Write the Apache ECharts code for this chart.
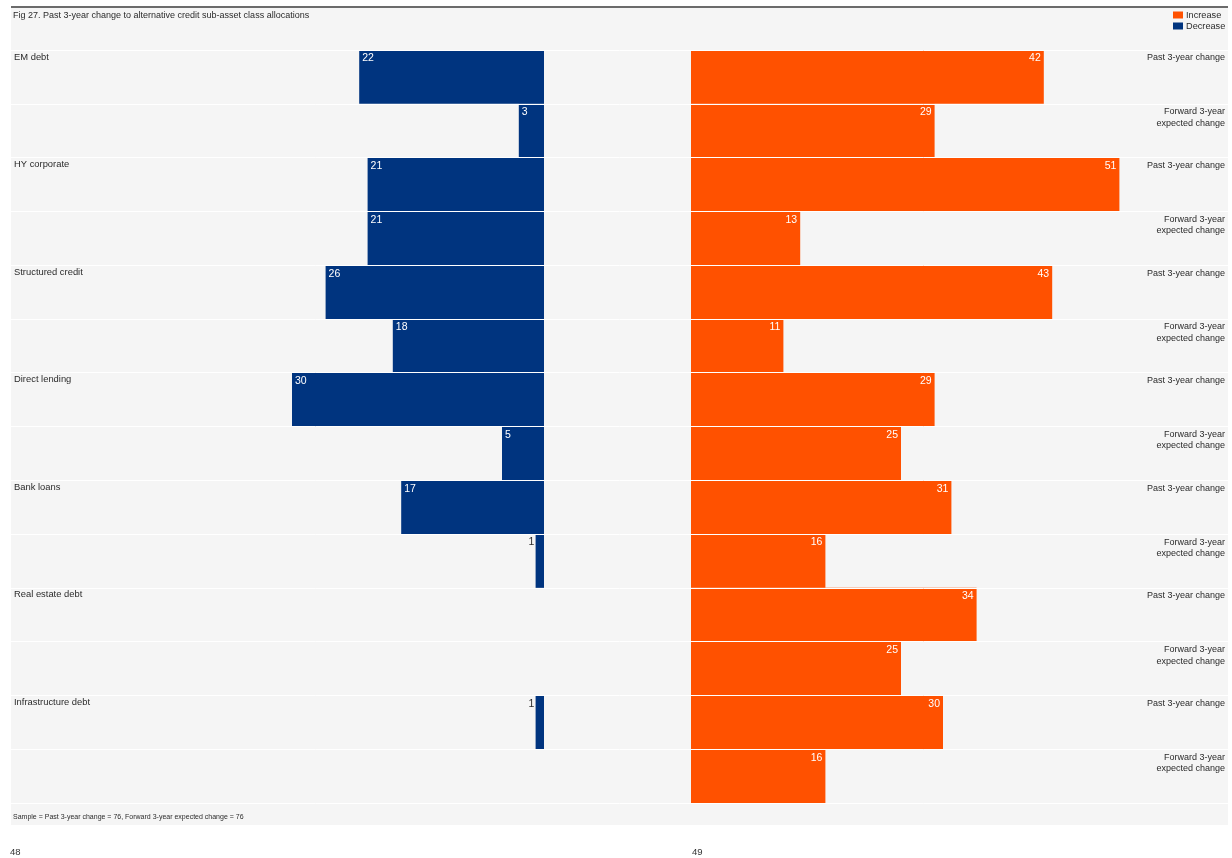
<!DOCTYPE html>
<html>
<head>
<meta charset="utf-8">
<script src="https://cdn.jsdelivr.net/npm/echarts@6/dist/echarts.min.js"></script>
<style>
  html, body { margin: 0; padding: 0; background: #ffffff; }
  #chart { width: 1232px; height: 858px; }
</style>
</head>
<body>
<div id="chart"></div>
<script>
// Sub-asset classes, each shown with a past and a forward-looking row
const groups = ['EM debt', 'HY corporate', 'Structured credit', 'Direct lending', 'Bank loans', 'Real estate debt', 'Infrastructure debt'];
const periodLabels = ['Past 3-year change', 'Forward 3-year', 'expected change'];

// Share of respondents (%) reporting a decrease / increase
const decreasePast    = [22, 21, 26, 30, 17, null, 1];
const decreaseForward = [3, 21, 18, 5, 1, null, null];
const increasePast    = [42, 51, 43, 29, 31, 34, 30];
const increaseForward = [29, 13, 11, 25, 16, 25, 16];

const titleText = 'Fig 27. Past 3-year change to alternative credit sub-asset class allocations';
const noteText = 'Sample = Past 3-year change = 76, Forward 3-year expected change = 76';
const pageLeft = '48';
const pageRight = '49';

const BLUE = '#00347f';
const ORANGE = '#ff5100';
const TEXT = '#2b2b2b';

// Interleave past / forward rows
const rowKeys = [];
const decRows = [];
const incRows = [];
groups.forEach((g, i) => {
  rowKeys.push(g + ' | past');
  rowKeys.push(g + ' | forward');
  decRows.push(decreasePast[i]);
  decRows.push(decreaseForward[i]);
  incRows.push(increasePast[i]);
  incRows.push(increaseForward[i]);
});
// Row edges: one tick per row top plus the bottom edge
const edgeKeys = rowKeys.concat(['end']);

const decData = decRows.map(v => {
  if (v == null) return null;
  if (v < 2) {
    // too narrow for an inside label: place it just left of the bar
    return { value: v, label: { color: TEXT, offset: [-10, 0] } };
  }
  return v;
});

const chart = echarts.init(document.getElementById('chart'), null, { renderer: 'canvas' });

const FONT = 'Liberation Sans';
const TOP = 50, HEIGHT = 753;

const edgeAxisBase = {
  type: 'category', gridIndex: 2, data: edgeKeys, inverse: true, boundaryGap: false,
  axisLine: { show: false }, axisTick: { show: false }, splitLine: { show: false }
};

chart.setOption({
  backgroundColor: '#ffffff',
  animation: false,
  textStyle: { fontFamily: FONT },
  graphic: [
    { type: 'rect', z: -10, shape: { x: 11, y: 8, width: 1217, height: 817 }, style: { fill: '#f5f5f5' } },
    { type: 'line', z: -9, shape: { x1: 11, y1: 7, x2: 1228, y2: 7 }, style: { stroke: '#3a3a3a', lineWidth: 1.5 } }
  ],
  title: [
    { text: titleText, left: 13, top: 11, padding: 0, textStyle: { fontSize: 9, fontWeight: 'normal', color: TEXT, fontFamily: FONT } },
    { text: noteText, left: 13, top: 814, padding: 0, textStyle: { fontSize: 7, fontWeight: 'normal', color: TEXT, fontFamily: FONT } },
    { text: pageLeft, left: 10, top: 847, padding: 0, textStyle: { fontSize: 9.5, fontWeight: 'normal', color: '#333', fontFamily: FONT } },
    { text: pageRight, left: 692, top: 847, padding: 0, textStyle: { fontSize: 9.5, fontWeight: 'normal', color: '#333', fontFamily: FONT } }
  ],
  legend: {
    data: ['Increase', 'Decrease'],
    orient: 'vertical',
    left: 1173,
    top: 10,
    padding: 0,
    itemGap: 1,
    itemWidth: 10,
    itemHeight: 7,
    icon: 'rect',
    textStyle: { fontSize: 9.2, color: TEXT, lineHeight: 10, padding: [0, 0, 0, -2], fontFamily: FONT }
  },
  grid: [
    { left: 40, width: 504, top: TOP, height: HEIGHT },
    { left: 691, width: 504, top: TOP, height: HEIGHT },
    { left: 11, width: 1217, top: TOP, height: HEIGHT }
  ],
  xAxis: [
    { type: 'value', gridIndex: 0, min: 0, max: 60, inverse: true, show: false },
    { type: 'value', gridIndex: 1, min: 0, max: 60, show: false },
    { type: 'value', gridIndex: 2, min: 0, max: 1, show: false }
  ],
  yAxis: [
    { type: 'category', gridIndex: 0, data: rowKeys, inverse: true, show: false },
    { type: 'category', gridIndex: 1, data: rowKeys, inverse: true, show: false },
    Object.assign({}, edgeAxisBase, {
      // sub-asset class names plus the white row separators
      position: 'left', z: 10,
      splitLine: { show: true, lineStyle: { color: '#ffffff', width: 1 } },
      axisLabel: {
        inside: true, align: 'left', verticalAlign: 'top', margin: 3, interval: 0,
        fontSize: 9.4, color: TEXT, lineHeight: 14,
        formatter: (v, i) => (i % 2 === 0 && i < rowKeys.length ? groups[i / 2] : '')
      }
    }),
    Object.assign({}, edgeAxisBase, {
      position: 'right',
      axisLabel: {
        inside: true, align: 'right', verticalAlign: 'top', margin: 3, interval: 0,
        fontSize: 9, color: TEXT, lineHeight: 16,
        formatter: (v, i) => (i % 2 === 0 && i < rowKeys.length ? periodLabels[0] : '')
      }
    }),
    Object.assign({}, edgeAxisBase, {
      position: 'right',
      axisLabel: {
        inside: true, align: 'right', verticalAlign: 'top', margin: 3, interval: 0,
        fontSize: 9, color: TEXT,
        rich: {
          a: { fontSize: 9, color: TEXT, lineHeight: 16, align: 'right', fontFamily: FONT },
          b: { fontSize: 9, color: TEXT, lineHeight: 7, align: 'right', fontFamily: FONT }
        },
        formatter: (v, i) => (i % 2 === 1 ? '{a|' + periodLabels[1] + '}\n{b|' + periodLabels[2] + '}' : '')
      }
    })
  ],
  series: [
    {
      name: 'Increase', type: 'bar', xAxisIndex: 1, yAxisIndex: 1,
      data: incRows, barCategoryGap: 0, barWidth: '100%',
      itemStyle: { color: ORANGE },
      label: { show: true, position: 'insideTopRight', distance: 3, offset: [0, 0], color: '#ffffff', fontSize: 10.5 }
    },
    {
      name: 'Decrease', type: 'bar', xAxisIndex: 0, yAxisIndex: 0,
      data: decData, barCategoryGap: 0, barWidth: '100%',
      itemStyle: { color: BLUE },
      label: { show: true, position: 'insideTopLeft', distance: 3, offset: [0, 0], color: '#ffffff', fontSize: 10.5 }
    }
  ]
});
</script>
</body>
</html>
